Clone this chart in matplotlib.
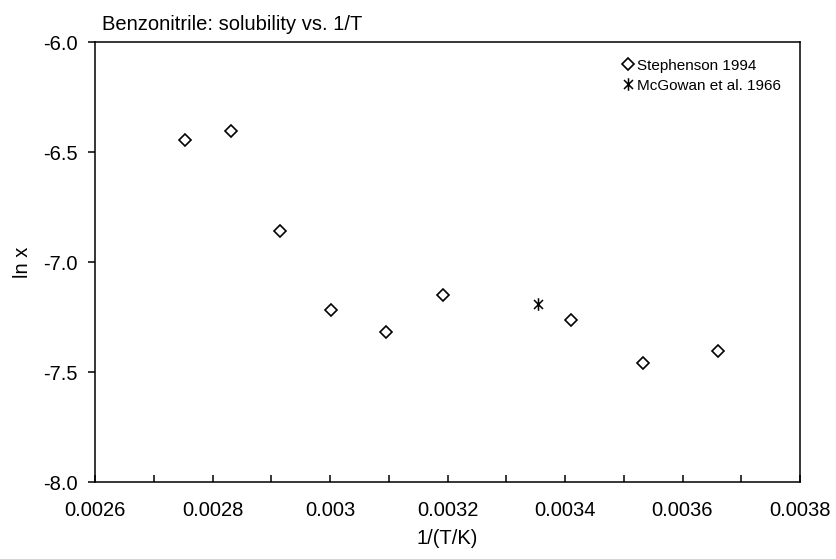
import matplotlib
matplotlib.use("Agg")
import matplotlib.pyplot as plt
from matplotlib.path import Path
from matplotlib.ticker import MultipleLocator, FuncFormatter

plt.rcParams['font.family'] = ['Liberation Sans', 'DejaVu Sans']

# Data
steph_x = [0.002753, 0.002832, 0.002915, 0.003002, 0.003095, 0.003193, 0.003411, 0.003533, 0.003661]
steph_y = [-6.445, -6.405, -6.859, -7.22, -7.318, -7.15, -7.265, -7.459, -7.405]
mcg_x = [0.003354]
mcg_y = [-7.19]

title = "Benzonitrile: solubility vs. 1/T"
xlabel = "1/(T/K)"
ylabel = "ln x"
labels = ["Stephenson 1994", "McGowan et al. 1966"]

fig = plt.figure(figsize=(8.36, 5.59), dpi=100)
ax = fig.add_axes([95/836, 1-482/559, 705/836, 440/559])

ast = Path([(0, -1), (0, 1), (-0.72, -0.72), (0.72, 0.72), (-0.72, 0.72), (0.72, -0.72)],
           [Path.MOVETO, Path.LINETO, Path.MOVETO, Path.LINETO, Path.MOVETO, Path.LINETO])

ax.plot(steph_x, steph_y, linestyle='none', marker='D', markersize=6,
        markerfacecolor='white', markeredgecolor='black', markeredgewidth=1.2, label=labels[0])
ax.plot(mcg_x, mcg_y, linestyle='none', marker=ast, markersize=9,
        markeredgecolor='black', markeredgewidth=1.1, label=labels[1])

ax.set_xlim(0.0026, 0.0038)
ax.set_ylim(-8.0, -6.0)
ax.xaxis.set_major_locator(MultipleLocator(0.0002))
ax.xaxis.set_minor_locator(MultipleLocator(0.0001))
ax.yaxis.set_major_locator(MultipleLocator(0.5))
ax.xaxis.set_major_formatter(FuncFormatter(lambda v, p: f"{v:.4f}".rstrip('0') if abs(v - 0.003) < 1e-9 else f"{v:.4f}"))
ax.yaxis.set_major_formatter(FuncFormatter(lambda v, p: f"{v:.1f}"))

for s in ax.spines.values():
    s.set_linewidth(1.1)
    s.set_color('black')
ax.tick_params(axis='x', which='both', direction='in', length=5, width=1.1, labelsize=14.5, pad=14)
ax.tick_params(axis='y', which='major', direction='out', length=5, width=1.1, labelsize=14.5, pad=7.5)

ax.set_xlabel(xlabel, fontsize=14.5, labelpad=6)
ax.set_ylabel(ylabel, fontsize=14.5, labelpad=8)
ax.set_title(title, fontsize=14.5, loc='left', pad=9, x=7/705)

leg = ax.legend(loc='upper left', bbox_to_anchor=(0.749, 0.962), frameon=False, fontsize=11,
                handlelength=0.6, handletextpad=0.3, borderpad=0, borderaxespad=0, labelspacing=0.4)

fig.savefig("out.png", dpi=100)
